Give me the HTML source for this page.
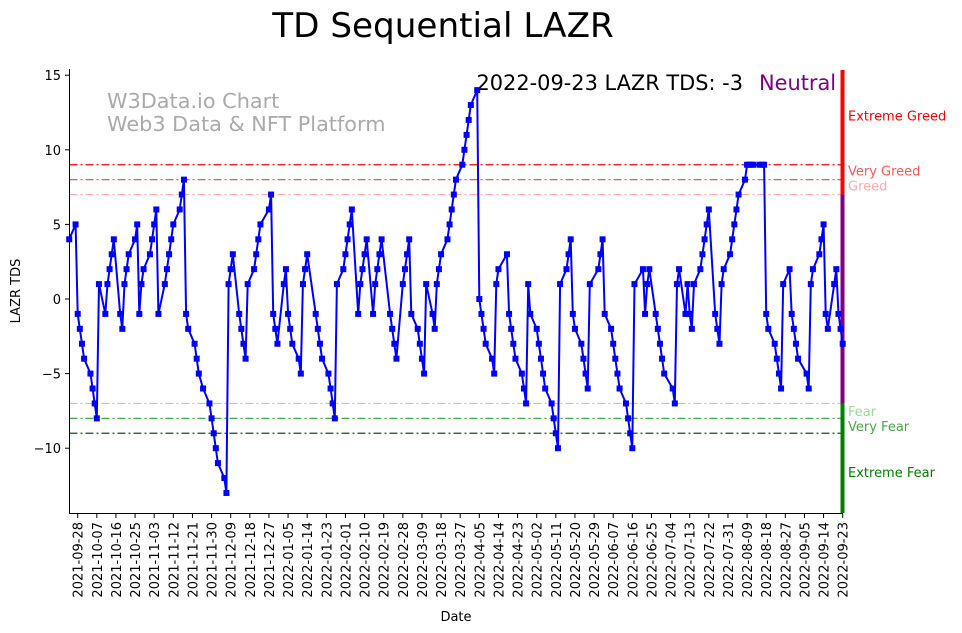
<!DOCTYPE html>
<html><head><meta charset="utf-8">
<style>
html,body{margin:0;padding:0;background:#fff;}
svg{display:block;font-family:"DejaVu Sans","Liberation Sans",sans-serif;}
</style></head>
<body>
<svg id="chart" width="962" height="633" viewBox="0 0 962 633" xmlns="http://www.w3.org/2000/svg">
<text x="443" y="37" font-size="34.2" text-anchor="middle" fill="#000">TD Sequential LAZR</text>
<text x="107" y="108" font-size="20.8" fill="#aaa">W3Data.io Chart</text>
<text x="107" y="131" font-size="20.8" fill="#aaa">Web3 Data &amp; NFT Platform</text>
<text x="743" y="90" font-size="20.9" text-anchor="end" fill="#000">2022-09-23 LAZR TDS: -3</text>
<text x="759" y="90" font-size="20.9" fill="#800080">Neutral</text>
<g id="levels"></g>
<g id="xticks"></g>
<g id="yticks"></g>
<g id="series"></g>
<line x1="69.5" y1="69" x2="69.5" y2="513.5" stroke="#000" stroke-width="1"/>
<line x1="69" y1="513.5" x2="843" y2="513.5" stroke="#000" stroke-width="1"/>
<text x="456" y="621" font-size="13" text-anchor="middle">Date</text>
<text x="20" y="291" font-size="13" text-anchor="middle" transform="rotate(-90 20 291)">LAZR TDS</text>
</svg>
<script>
// day offsets from 2021-09-24 (trading days)
const dayOffset = [0,3,4,5,6,7,10,11,12,13,14,17,18,19,20,21,24,25,26,27,28,31,32,33,34,35,38,39,40,41,42,45,46,47,48,49,52,53,54,55,56,59,60,61,63,66,67,68,69,70,73,74,75,76,77,80,81,82,83,84,87,88,89,90,94,95,96,97,98,101,102,103,104,105,108,109,110,111,112,116,117,118,119,122,123,124,125,126,129,130,131,132,133,136,137,138,139,140,143,144,145,146,147,151,152,153,154,157,158,159,160,161,164,165,166,167,168,171,172,173,174,175,178,179,180,181,182,185,186,187,188,189,192,193,194,195,196,199,200,201,202,206,207,208,209,210,213,214,215,216,217,220,221,222,223,224,227,228,229,230,231,234,235,236,237,238,241,242,243,244,245,249,250,251,252,255,256,257,258,259,262,263,264,265,266,270,271,272,273,276,277,278,279,280,284,285,286,287,290,291,292,293,294,297,298,299,300,301,304,305,306,307,308,311,312,313,314,315,318,319,320,321,322,325,326,327,328,329,332,333,334,335,336,339,340,341,342,343,347,348,349,350,353,354,355,356,357,360,361,362,363,364];
const tdsValues = [4,5,-1,-2,-3,-4,-5,-6,-7,-8,1,-1,1,2,3,4,-1,-2,1,2,3,4,5,-1,1,2,3,4,5,6,-1,1,2,3,4,5,6,7,8,-1,-2,-3,-4,-5,-6,-7,-8,-9,-10,-11,-12,-13,1,2,3,-1,-2,-3,-4,1,2,3,4,5,6,7,-1,-2,-3,1,2,-1,-2,-3,-4,-5,1,2,3,-1,-2,-3,-4,-5,-6,-7,-8,1,2,3,4,5,6,-1,1,2,3,4,-1,1,2,3,4,-1,-2,-3,-4,1,2,3,4,-1,-2,-3,-4,-5,1,-1,-2,1,2,3,4,5,6,7,8,9,10,11,12,13,14,0,-1,-2,-3,-4,-5,1,2,3,-1,-2,-3,-4,-5,-6,-7,1,-1,-2,-3,-4,-5,-6,-7,-8,-9,-10,1,2,3,4,-1,-2,-3,-4,-5,-6,1,2,3,4,-1,-2,-3,-4,-5,-6,-7,-8,-9,-10,1,2,-1,1,2,-1,-2,-3,-4,-5,-6,-7,1,2,-1,1,-1,-2,1,2,3,4,5,6,-1,-2,-3,1,2,3,4,5,6,7,8,9,9,9,9,9,9,9,-1,-2,-3,-4,-5,-6,1,2,-1,-2,-3,-4,-5,-6,1,2,3,4,5,-1,-2,1,2,-1,-2,-3];
const yTickValues = [15,10,5,0,-5,-10];
const levelValues = [9,8,7,-7,-8,-9];
const levelNames = ["Extreme Greed","Very Greed","Greed","Fear","Very Fear","Extreme Fear"];
const levelLabelValues = [12.3,8.6,7.6,-7.5,-8.5,-11.6];
const tickStartOffset = 4, tickStep = 9, lastOffset = 364;

const NS = "http://www.w3.org/2000/svg";
const X0 = 69.2, DX = 2.125, Y0 = 299, DY = 14.92;
function xs(d){ return X0 + d*DX; }
function ys(v){ return Y0 - v*DY; }
function mk(tag, attrs, parent){ const e=document.createElementNS(NS,tag); for(const k in attrs) e.setAttribute(k,attrs[k]); parent.appendChild(e); return e; }
function dateLabel(d){ const t=new Date(Date.UTC(2021,8,24)+d*86400000); return t.toISOString().slice(0,10); }

const levelColors=["#ff0000","#ee5555","#ffaaaa","#99dd99","#44aa44","#006600"];
const labelColors=["#ff0000","#ff5555","#ffaaaa","#99dd99","#44aa44","#008000"];
const lv=document.getElementById('levels');
levelValues.forEach((v,i)=>{
  const l=mk('line',{x1:69.5,x2:842,y1:ys(v),y2:ys(v),stroke:levelColors[i],'stroke-width':1.2,'stroke-dasharray':'8,3,2,3'},lv);
  
  
  const t=mk('text',{x:848,y:ys(levelLabelValues[i])+5,'font-size':13,fill:labelColors[i]},lv);
  t.textContent=levelNames[i];
  
  
});
const yTop=ys(15.35), yBot=ys(-14.35);
const zones=[[yTop,ys(7),"#ff0000"],[ys(7),ys(-7),"#800080"],[ys(-7),yBot,"#008000"]];
zones.forEach(z=>{
  const r=mk('rect',{x:840.5,y:z[0],width:4,height:z[1]-z[0],fill:z[2]},lv);
  
  
});

const yt=document.getElementById('yticks');
yTickValues.forEach(v=>{
  const y=ys(v);
  mk('line',{x1:65,x2:69.5,y1:y,y2:y,stroke:'#000'},yt);
  const t=mk('text',{x:61,y:y+5,'font-size':13,'text-anchor':'end'},yt);
  t.textContent=String(v).replace('-','\u2212');
  
  
});
const xt=document.getElementById('xticks');
for(let d=tickStartOffset; d<=lastOffset; d+=tickStep){
  const x=xs(d);
  mk('line',{x1:x,x2:x,y1:513.5,y2:518,stroke:'#000'},xt);
  const t=mk('text',{x:x+5,y:522,'font-size':13,'text-anchor':'end',transform:`rotate(-90 ${x+5} 522)`},xt);
  t.textContent=dateLabel(d);
  
  
}
const sg=document.getElementById('series');
const pts=dayOffset.map((d,i)=>xs(d).toFixed(1)+','+ys(tdsValues[i]).toFixed(1)).join(' ');
const pl=mk('polyline',{points:pts,fill:'none',stroke:'#0000ff','stroke-width':2,'stroke-linejoin':'round'},sg);


dayOffset.forEach((d,i)=>{
  const r=mk('rect',{x:xs(d)-3,y:ys(tdsValues[i])-3,width:6,height:6,fill:'#0000ff'},sg);
  
  
});
</script>
</body></html>
